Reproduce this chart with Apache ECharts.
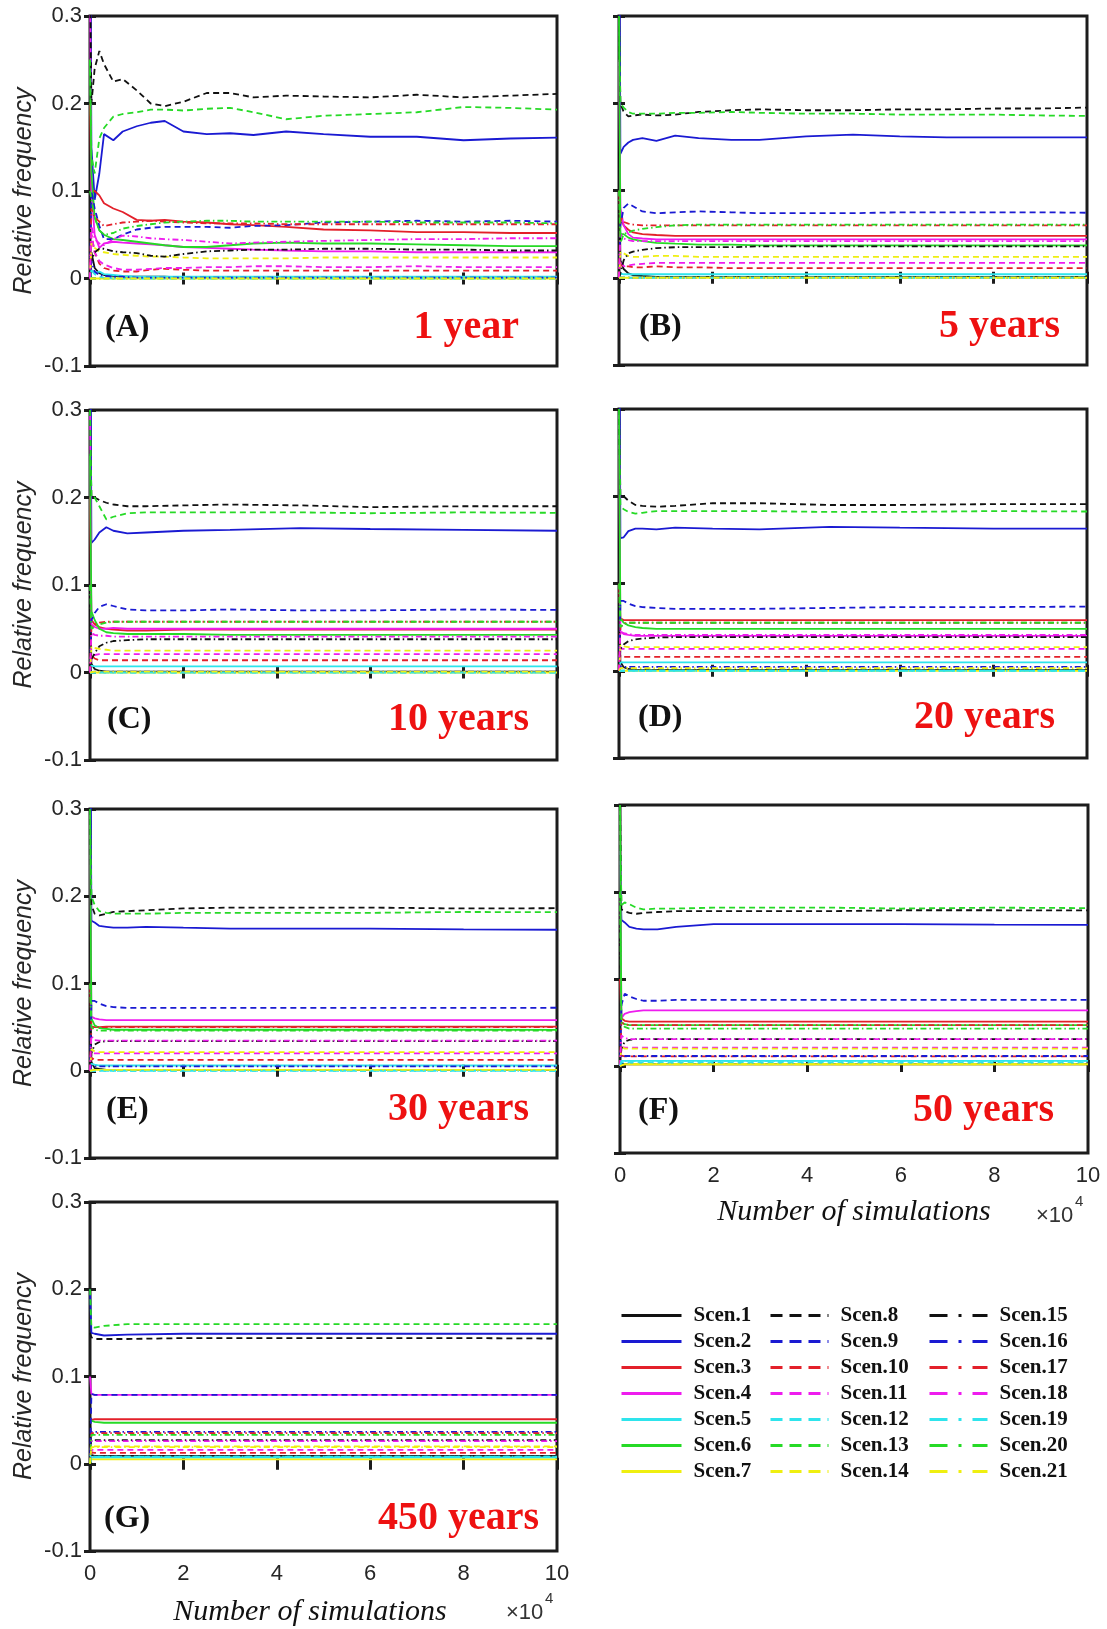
<!DOCTYPE html>
<html>
<head>
<meta charset="utf-8">
<script src="https://cdn.jsdelivr.net/npm/echarts@6/dist/echarts.min.js"></script>
<style>
html, body { margin: 0; padding: 0; background: #fff; }
#chart { width: 1107px; height: 1629px; }
</style>
</head>
<body>
<div id="chart"></div>
<script>
// scenario names, 21 per panel
var scenNames = ['Scen.1','Scen.2','Scen.3','Scen.4','Scen.5','Scen.6','Scen.7',
  'Scen.8','Scen.9','Scen.10','Scen.11','Scen.12','Scen.13','Scen.14',
  'Scen.15','Scen.16','Scen.17','Scen.18','Scen.19','Scen.20','Scen.21'];

var panelTags = ['(A)', '(B)', '(C)', '(D)', '(E)', '(F)', '(G)'];
var panelYears = ['1 year', '5 years', '10 years', '20 years', '30 years', '50 years', '450 years'];

// x positions (number of simulations) where the curves were read
var xA = [0, 300, 1000, 2000, 3000, 5000, 7000, 10000, 13000, 16000, 20000, 25000, 30000, 35000, 42000, 50000, 60000, 70000, 80000, 90000, 100000];
var xB = [0, 300, 1000, 2000, 3000, 5000, 8000, 12000, 17000, 24000, 30000, 40000, 50000, 60000, 70000, 80000, 90000, 100000];
var xC = [0, 300, 1000, 2000, 3500, 5000, 8000, 12000, 20000, 30000, 45000, 60000, 80000, 100000];
var xG = [0, 300, 1000, 3000, 8000, 20000, 40000, 60000, 80000, 100000];

// (A) 1 year - one row per scenario
var freqA = [
  [0, 0.03, 0.012, 0.006, 0.004, 0.003, 0.002, 0.002, 0.002, 0.002, 0.001, 0.001, 0.001, 0.001, 0.001, 0.001, 0.001, 0.001, 0.001, 0.001, 0.001],
  [0.5, 0.15, 0.09, 0.12, 0.165, 0.158, 0.168, 0.174, 0.178, 0.18, 0.168, 0.165, 0.166, 0.164, 0.168, 0.165, 0.162, 0.162, 0.158, 0.16, 0.161],
  [0.2, 0.1, 0.1, 0.095, 0.086, 0.08, 0.076, 0.067, 0.066, 0.067, 0.065, 0.064, 0.062, 0.061, 0.059, 0.056, 0.055, 0.053, 0.053, 0.052, 0.052],
  [0.33, 0.1, 0.05, 0.035, 0.04, 0.042, 0.041, 0.04, 0.039, 0.038, 0.036, 0.035, 0.034, 0.033, 0.032, 0.031, 0.031, 0.03, 0.03, 0.03, 0.03],
  [0, 0.01, 0.006, 0.008, 0.005, 0.004, 0.003, 0.002, 0.002, 0.002, 0.002, 0.002, 0.002, 0.002, 0.002, 0.002, 0.002, 0.002, 0.002, 0.002, 0.002],
  [0.25, 0.12, 0.07, 0.055, 0.05, 0.045, 0.044, 0.042, 0.04, 0.038, 0.036, 0.036, 0.038, 0.04, 0.041, 0.04, 0.04, 0.039, 0.038, 0.037, 0.037],
  [0, 0, 0, 0, 0, 0, 0, 0, 0, 0, 0, 0, 0, 0, 0, 0, 0, 0, 0, 0, 0],
  [0.35, 0.2, 0.24, 0.26, 0.245, 0.225, 0.228, 0.215, 0.2, 0.197, 0.202, 0.212, 0.212, 0.207, 0.209, 0.208, 0.207, 0.21, 0.207, 0.209, 0.211],
  [0, 0.1, 0.08, 0.06, 0.045, 0.045, 0.05, 0.056, 0.058, 0.059, 0.059, 0.059, 0.058, 0.06, 0.061, 0.064, 0.065, 0.066, 0.065, 0.066, 0.065],
  [0, 0.05, 0.03, 0.017, 0.012, 0.009, 0.008, 0.008, 0.01, 0.011, 0.01, 0.009, 0.009, 0.009, 0.009, 0.009, 0.009, 0.009, 0.009, 0.009, 0.009],
  [0, 0.05, 0.03, 0.02, 0.016, 0.012, 0.01, 0.01, 0.011, 0.012, 0.012, 0.013, 0.013, 0.014, 0.014, 0.013, 0.013, 0.014, 0.013, 0.013, 0.013],
  [0, 0.01, 0.005, 0.002, 0.001, 0, 0, 0, 0, 0, 0, 0, 0, 0, 0, 0, 0, 0, 0, 0, 0],
  [0.25, 0.14, 0.12, 0.16, 0.172, 0.185, 0.188, 0.19, 0.193, 0.193, 0.192, 0.194, 0.195, 0.19, 0.182, 0.186, 0.188, 0.19, 0.196, 0.195, 0.193],
  [0, 0.04, 0.035, 0.031, 0.03, 0.028, 0.027, 0.026, 0.025, 0.025, 0.024, 0.023, 0.023, 0.023, 0.023, 0.024, 0.024, 0.024, 0.024, 0.024, 0.024],
  [0, 0.02, 0.03, 0.034, 0.034, 0.031, 0.03, 0.029, 0.026, 0.025, 0.028, 0.031, 0.032, 0.033, 0.033, 0.034, 0.034, 0.033, 0.033, 0.032, 0.032],
  [0, 0.02, 0.008, 0.004, 0.003, 0.002, 0.002, 0.001, 0.001, 0.001, 0.001, 0.001, 0.001, 0.001, 0.001, 0.001, 0.001, 0.001, 0.001, 0.001, 0.001],
  [0, 0.08, 0.07, 0.065, 0.06, 0.062, 0.064, 0.065, 0.066, 0.065, 0.064, 0.063, 0.063, 0.063, 0.062, 0.062, 0.062, 0.062, 0.062, 0.062, 0.062],
  [0, 0.06, 0.045, 0.04, 0.038, 0.045, 0.049, 0.048, 0.046, 0.045, 0.044, 0.042, 0.04, 0.041, 0.042, 0.043, 0.044, 0.045, 0.045, 0.046, 0.046],
  [0, 0, 0, 0, 0, 0, 0, 0, 0, 0, 0, 0, 0, 0, 0, 0, 0, 0, 0, 0, 0],
  [0.1, 0.1, 0.07, 0.055, 0.05, 0.052, 0.057, 0.06, 0.062, 0.064, 0.065, 0.066, 0.066, 0.065, 0.065, 0.065, 0.065, 0.064, 0.064, 0.064, 0.063],
  [0, 0, 0, 0, 0, 0, 0, 0, 0, 0, 0, 0, 0, 0, 0, 0, 0, 0, 0, 0, 0]
];

// (B) 5 years
var freqB = [
  [0.2, 0.02, 0.01, 0.005, 0.003, 0.002, 0.001, 0.001, 0.001, 0.001, 0.001, 0.001, 0.001, 0.001, 0.001, 0.001, 0.001, 0.001],
  [0.5, 0.142, 0.15, 0.155, 0.158, 0.16, 0.157, 0.163, 0.16, 0.158, 0.158, 0.162, 0.164, 0.162, 0.161, 0.161, 0.161, 0.161],
  [0.1, 0.07, 0.06, 0.055, 0.052, 0.05, 0.049, 0.048, 0.048, 0.048, 0.048, 0.048, 0.048, 0.048, 0.048, 0.048, 0.048, 0.048],
  [0.25, 0.08, 0.06, 0.05, 0.046, 0.045, 0.044, 0.044, 0.044, 0.044, 0.044, 0.044, 0.044, 0.044, 0.044, 0.044, 0.044, 0.044],
  [0, 0.005, 0.004, 0.004, 0.004, 0.004, 0.004, 0.004, 0.004, 0.004, 0.004, 0.004, 0.004, 0.004, 0.004, 0.004, 0.004, 0.004],
  [0.3, 0.05, 0.05, 0.046, 0.044, 0.042, 0.04, 0.039, 0.038, 0.038, 0.037, 0.037, 0.037, 0.037, 0.037, 0.037, 0.037, 0.037],
  [0, 0, 0, 0, 0, 0, 0, 0, 0, 0, 0, 0, 0, 0, 0, 0, 0, 0],
  [0.3, 0.2, 0.19, 0.185, 0.186, 0.187, 0.186, 0.187, 0.19, 0.192, 0.193, 0.192, 0.192, 0.193, 0.193, 0.194, 0.194, 0.195],
  [0, 0.06, 0.08, 0.085, 0.082, 0.076, 0.074, 0.075, 0.076, 0.075, 0.074, 0.074, 0.074, 0.075, 0.075, 0.075, 0.075, 0.0745],
  [0, 0.015, 0.013, 0.013, 0.012, 0.012, 0.013, 0.012, 0.012, 0.011, 0.011, 0.011, 0.011, 0.011, 0.011, 0.011, 0.011, 0.011],
  [0, 0.02, 0.013, 0.014, 0.015, 0.016, 0.017, 0.017, 0.017, 0.017, 0.017, 0.017, 0.017, 0.017, 0.017, 0.017, 0.017, 0.017],
  [0, 0, 0, 0, 0, 0, 0, 0, 0, 0, 0, 0, 0, 0, 0, 0, 0, 0],
  [0.3, 0.2, 0.195, 0.19, 0.188, 0.188, 0.188, 0.189, 0.189, 0.19, 0.189, 0.188, 0.188, 0.187, 0.187, 0.187, 0.186, 0.1855],
  [0, 0.03, 0.028, 0.025, 0.024, 0.024, 0.025, 0.025, 0.024, 0.024, 0.024, 0.024, 0.024, 0.024, 0.024, 0.024, 0.024, 0.024],
  [0, 0.005, 0.02, 0.028, 0.03, 0.032, 0.034, 0.035, 0.035, 0.035, 0.036, 0.036, 0.036, 0.036, 0.036, 0.036, 0.036, 0.036],
  [0, 0, 0, 0, 0, 0, 0, 0, 0, 0, 0, 0, 0, 0, 0, 0, 0, 0],
  [0, 0.07, 0.064, 0.062, 0.061, 0.06, 0.06, 0.06, 0.06, 0.06, 0.06, 0.06, 0.06, 0.06, 0.06, 0.06, 0.06, 0.06],
  [0, 0.05, 0.045, 0.043, 0.042, 0.042, 0.042, 0.042, 0.042, 0.042, 0.042, 0.042, 0.042, 0.042, 0.042, 0.042, 0.042, 0.042],
  [0, 0, 0, 0, 0, 0, 0, 0, 0, 0, 0, 0, 0, 0, 0, 0, 0, 0],
  [0.1, 0.04, 0.05, 0.052, 0.054, 0.056, 0.058, 0.06, 0.061, 0.061, 0.061, 0.061, 0.061, 0.061, 0.061, 0.061, 0.061, 0.061],
  [0, 0, 0, 0, 0, 0, 0, 0, 0, 0, 0, 0, 0, 0, 0, 0, 0, 0]
];

// (C) 10 years
var freqC = [
  [0.1, 0.01, 0.004, 0.002, 0.001, 0.001, 0.001, 0.001, 0.001, 0.001, 0.001, 0.001, 0.001, 0.001],
  [0.5, 0.148, 0.152, 0.16, 0.166, 0.162, 0.159, 0.16, 0.162, 0.163, 0.165, 0.164, 0.163, 0.162],
  [0.2, 0.06, 0.055, 0.052, 0.05, 0.049, 0.048, 0.048, 0.049, 0.049, 0.049, 0.049, 0.049, 0.049],
  [0.3, 0.055, 0.052, 0.05, 0.05, 0.051, 0.05, 0.05, 0.05, 0.05, 0.05, 0.05, 0.05, 0.05],
  [0, 0.008, 0.007, 0.007, 0.007, 0.007, 0.007, 0.007, 0.007, 0.007, 0.007, 0.007, 0.007, 0.007],
  [0.25, 0.07, 0.06, 0.05, 0.046, 0.045, 0.044, 0.044, 0.044, 0.043, 0.043, 0.043, 0.043, 0.043],
  [0, 0, 0, 0, 0, 0, 0, 0, 0, 0, 0, 0, 0, 0],
  [0.3, 0.2, 0.2, 0.197, 0.194, 0.192, 0.19, 0.19, 0.191, 0.192, 0.191, 0.189, 0.19, 0.19],
  [0, 0.06, 0.068, 0.075, 0.078, 0.076, 0.072, 0.071, 0.071, 0.072, 0.071, 0.071, 0.072, 0.0715],
  [0, 0.02, 0.016, 0.014, 0.014, 0.014, 0.014, 0.014, 0.014, 0.014, 0.014, 0.014, 0.014, 0.014],
  [0, 0.02, 0.02, 0.021, 0.021, 0.021, 0.021, 0.021, 0.021, 0.021, 0.021, 0.021, 0.021, 0.021],
  [0, 0, 0, 0, 0, 0, 0, 0, 0, 0, 0, 0, 0, 0],
  [0.3, 0.2, 0.2, 0.19, 0.175, 0.178, 0.182, 0.183, 0.183, 0.183, 0.183, 0.182, 0.183, 0.1825],
  [0, 0.03, 0.028, 0.027, 0.026, 0.025, 0.025, 0.025, 0.025, 0.025, 0.025, 0.025, 0.025, 0.025],
  [0, 0.015, 0.022, 0.03, 0.034, 0.036, 0.037, 0.038, 0.038, 0.038, 0.038, 0.038, 0.038, 0.038],
  [0, 0.002, 0.001, 0.001, 0.001, 0.001, 0.001, 0.001, 0.001, 0.001, 0.001, 0.001, 0.001, 0.001],
  [0, 0.05, 0.055, 0.057, 0.058, 0.058, 0.058, 0.058, 0.058, 0.058, 0.058, 0.058, 0.058, 0.058],
  [0, 0.045, 0.043, 0.042, 0.042, 0.041, 0.041, 0.041, 0.041, 0.041, 0.041, 0.041, 0.041, 0.041],
  [0, 0, 0, 0, 0, 0, 0, 0, 0, 0, 0, 0, 0, 0],
  [0.1, 0.05, 0.052, 0.055, 0.057, 0.058, 0.058, 0.058, 0.058, 0.058, 0.058, 0.058, 0.058, 0.058],
  [0, 0.001, 0.001, 0.001, 0.001, 0.001, 0.001, 0.001, 0.001, 0.001, 0.001, 0.001, 0.001, 0.001]
];

// (D) 20 years
var freqD = [
  [0.1, 0.01, 0.004, 0.002, 0.001, 0.001, 0.001, 0.001, 0.001, 0.001, 0.001, 0.001, 0.001, 0.001],
  [0.5, 0.152, 0.153, 0.16, 0.163, 0.163, 0.162, 0.164, 0.163, 0.162, 0.165, 0.164, 0.163, 0.163],
  [0.1, 0.06, 0.058, 0.058, 0.058, 0.058, 0.058, 0.058, 0.058, 0.058, 0.058, 0.058, 0.058, 0.058],
  [0.3, 0.045, 0.042, 0.041, 0.04, 0.04, 0.04, 0.04, 0.04, 0.04, 0.04, 0.04, 0.04, 0.04],
  [0, 0.01, 0.0095, 0.0095, 0.0095, 0.0095, 0.0095, 0.0095, 0.0095, 0.0095, 0.0095, 0.0095, 0.0095, 0.0095],
  [0.3, 0.06, 0.055, 0.052, 0.05, 0.049, 0.048, 0.048, 0.048, 0.048, 0.048, 0.048, 0.048, 0.048],
  [0, 0, 0, 0, 0, 0, 0, 0, 0, 0, 0, 0, 0, 0],
  [0.3, 0.2, 0.2, 0.195, 0.19, 0.189, 0.188, 0.189, 0.192, 0.192, 0.19, 0.19, 0.191, 0.191],
  [0, 0.08, 0.08, 0.077, 0.074, 0.073, 0.072, 0.071, 0.071, 0.071, 0.072, 0.073, 0.073, 0.0735],
  [0, 0.018, 0.016, 0.016, 0.016, 0.016, 0.016, 0.016, 0.016, 0.016, 0.016, 0.016, 0.016, 0.016],
  [0, 0.025, 0.025, 0.025, 0.025, 0.025, 0.025, 0.025, 0.025, 0.025, 0.025, 0.025, 0.025, 0.025],
  [0, 0, 0, 0, 0, 0, 0, 0, 0, 0, 0, 0, 0, 0],
  [0.3, 0.19, 0.185, 0.182, 0.18, 0.181, 0.183, 0.183, 0.183, 0.183, 0.182, 0.182, 0.183, 0.1825],
  [0, 0.03, 0.028, 0.027, 0.027, 0.027, 0.027, 0.027, 0.027, 0.027, 0.027, 0.027, 0.027, 0.027],
  [0, 0.025, 0.03, 0.034, 0.036, 0.037, 0.038, 0.0385, 0.0385, 0.0385, 0.0385, 0.0385, 0.0385, 0.0385],
  [0, 0.005, 0.0045, 0.0045, 0.0045, 0.0045, 0.0045, 0.0045, 0.0045, 0.0045, 0.0045, 0.0045, 0.0045, 0.0045],
  [0, 0.05, 0.054, 0.055, 0.055, 0.055, 0.055, 0.055, 0.055, 0.055, 0.055, 0.055, 0.055, 0.055],
  [0, 0.045, 0.043, 0.042, 0.041, 0.041, 0.041, 0.041, 0.041, 0.041, 0.041, 0.041, 0.041, 0.041],
  [0, 0, 0, 0, 0, 0, 0, 0, 0, 0, 0, 0, 0, 0],
  [0.1, 0.05, 0.053, 0.055, 0.055, 0.055, 0.055, 0.055, 0.055, 0.055, 0.055, 0.055, 0.055, 0.055],
  [0, 0.003, 0.003, 0.003, 0.003, 0.003, 0.003, 0.003, 0.003, 0.003, 0.003, 0.003, 0.003, 0.003]
];

// (E) 30 years
var freqE = [
  [0.1, 0.01, 0.003, 0.002, 0.001, 0.001, 0.001, 0.001, 0.001, 0.001, 0.001, 0.001, 0.001, 0.001],
  [0.5, 0.172, 0.17, 0.166, 0.165, 0.164, 0.164, 0.165, 0.164, 0.163, 0.163, 0.163, 0.162, 0.1616],
  [0.1, 0.05, 0.05, 0.05, 0.0505, 0.0506, 0.0506, 0.0506, 0.0506, 0.0506, 0.0506, 0.0506, 0.0506, 0.0506],
  [0.3, 0.062, 0.06, 0.059, 0.058, 0.058, 0.058, 0.058, 0.058, 0.058, 0.058, 0.058, 0.058, 0.058],
  [0, 0.008, 0.007, 0.006, 0.006, 0.006, 0.006, 0.006, 0.006, 0.006, 0.006, 0.006, 0.006, 0.006],
  [0.3, 0.06, 0.052, 0.049, 0.048, 0.047, 0.047, 0.047, 0.047, 0.047, 0.047, 0.047, 0.047, 0.0468],
  [0, 0.001, 0.001, 0.001, 0.001, 0.001, 0.001, 0.001, 0.001, 0.001, 0.001, 0.001, 0.001, 0.001],
  [0.3, 0.19, 0.18, 0.178, 0.18, 0.182, 0.183, 0.184, 0.186, 0.187, 0.187, 0.187, 0.186, 0.1863],
  [0, 0.08, 0.08, 0.077, 0.074, 0.073, 0.072, 0.072, 0.072, 0.072, 0.072, 0.072, 0.072, 0.0722],
  [0, 0.015, 0.0125, 0.0125, 0.0125, 0.0125, 0.0125, 0.0125, 0.0125, 0.0125, 0.0125, 0.0125, 0.0125, 0.0125],
  [0, 0.02, 0.02, 0.02, 0.02, 0.02, 0.02, 0.02, 0.02, 0.02, 0.02, 0.02, 0.02, 0.02],
  [0, 0, 0, 0, 0, 0, 0, 0, 0, 0, 0, 0, 0, 0],
  [0.3, 0.2, 0.19, 0.183, 0.181, 0.18, 0.18, 0.18, 0.181, 0.181, 0.181, 0.181, 0.182, 0.1817],
  [0, 0.025, 0.022, 0.0213, 0.0213, 0.0213, 0.0213, 0.0213, 0.0213, 0.0213, 0.0213, 0.0213, 0.0213, 0.0213],
  [0, 0.02, 0.03, 0.033, 0.034, 0.034, 0.034, 0.034, 0.034, 0.034, 0.034, 0.034, 0.034, 0.034],
  [0, 0.006, 0.005, 0.005, 0.005, 0.005, 0.005, 0.005, 0.005, 0.005, 0.005, 0.005, 0.005, 0.005],
  [0, 0.05, 0.05, 0.05, 0.05, 0.05, 0.05, 0.05, 0.05, 0.05, 0.05, 0.05, 0.05, 0.05],
  [0, 0.04, 0.035, 0.0346, 0.0346, 0.0346, 0.0346, 0.0346, 0.0346, 0.0346, 0.0346, 0.0346, 0.0346, 0.0346],
  [0, 0, 0, 0, 0, 0, 0, 0, 0, 0, 0, 0, 0, 0],
  [0.1, 0.05, 0.047, 0.046, 0.046, 0.046, 0.046, 0.046, 0.046, 0.046, 0.046, 0.046, 0.046, 0.046],
  [0, 0.001, 0.001, 0.001, 0.001, 0.001, 0.001, 0.001, 0.001, 0.001, 0.001, 0.001, 0.001, 0.001]
];

// (F) 50 years
var freqF = [
  [0, 0.003, 0.002, 0.002, 0.002, 0.002, 0.002, 0.002, 0.002, 0.002, 0.002, 0.002, 0.002, 0.002],
  [0.25, 0.168, 0.165, 0.16, 0.158, 0.157, 0.157, 0.16, 0.163, 0.163, 0.163, 0.163, 0.1625, 0.1623],
  [0.1, 0.055, 0.052, 0.051, 0.051, 0.051, 0.051, 0.051, 0.051, 0.051, 0.051, 0.051, 0.051, 0.051],
  [0.3, 0.055, 0.06, 0.062, 0.063, 0.064, 0.064, 0.064, 0.064, 0.064, 0.064, 0.064, 0.064, 0.064],
  [0, 0.006, 0.006, 0.006, 0.006, 0.006, 0.006, 0.006, 0.006, 0.006, 0.006, 0.006, 0.006, 0.006],
  [0.3, 0.05, 0.048, 0.047, 0.047, 0.047, 0.047, 0.047, 0.047, 0.047, 0.047, 0.047, 0.047, 0.047],
  [0, 0.002, 0.002, 0.002, 0.002, 0.002, 0.002, 0.002, 0.002, 0.002, 0.002, 0.002, 0.002, 0.002],
  [0.3, 0.18, 0.178, 0.176, 0.175, 0.176, 0.177, 0.178, 0.178, 0.178, 0.178, 0.179, 0.179, 0.1788],
  [0, 0.07, 0.083, 0.08, 0.077, 0.075, 0.075, 0.076, 0.076, 0.076, 0.076, 0.076, 0.076, 0.076],
  [0, 0.012, 0.011, 0.011, 0.011, 0.011, 0.011, 0.011, 0.011, 0.011, 0.011, 0.011, 0.011, 0.011],
  [0, 0.022, 0.021, 0.021, 0.021, 0.021, 0.021, 0.021, 0.021, 0.021, 0.021, 0.021, 0.021, 0.021],
  [0, 0.004, 0.004, 0.004, 0.004, 0.004, 0.004, 0.004, 0.004, 0.004, 0.004, 0.004, 0.004, 0.004],
  [0.3, 0.185, 0.188, 0.186, 0.182, 0.18, 0.181, 0.181, 0.182, 0.182, 0.182, 0.181, 0.182, 0.1815],
  [0, 0.022, 0.02, 0.02, 0.02, 0.02, 0.02, 0.02, 0.02, 0.02, 0.02, 0.02, 0.02, 0.02],
  [0, 0.02, 0.028, 0.03, 0.031, 0.031, 0.031, 0.031, 0.031, 0.031, 0.031, 0.031, 0.031, 0.031],
  [0, 0.012, 0.0115, 0.0115, 0.0115, 0.0115, 0.0115, 0.0115, 0.0115, 0.0115, 0.0115, 0.0115, 0.0115, 0.0115],
  [0, 0.05, 0.048, 0.047, 0.047, 0.047, 0.047, 0.047, 0.047, 0.047, 0.047, 0.047, 0.047, 0.047],
  [0, 0.035, 0.032, 0.031, 0.031, 0.031, 0.031, 0.031, 0.031, 0.031, 0.031, 0.031, 0.031, 0.031],
  [0, 0.006, 0.006, 0.006, 0.006, 0.006, 0.006, 0.006, 0.006, 0.006, 0.006, 0.006, 0.006, 0.006],
  [0.2, 0.05, 0.045, 0.043, 0.043, 0.043, 0.043, 0.043, 0.043, 0.043, 0.043, 0.043, 0.043, 0.043],
  [0, 0.002, 0.002, 0.002, 0.002, 0.002, 0.002, 0.002, 0.002, 0.002, 0.002, 0.002, 0.002, 0.002]
];

// (G) 450 years
var freqG = [
  [0.05, 0.01, 0.009, 0.009, 0.009, 0.009, 0.009, 0.009, 0.009, 0.009],
  [0.2, 0.15, 0.149, 0.147, 0.148, 0.149, 0.149, 0.149, 0.149, 0.149],
  [0.05, 0.05, 0.051, 0.051, 0.051, 0.051, 0.051, 0.051, 0.051, 0.051],
  [0.1, 0.08, 0.079, 0.079, 0.079, 0.079, 0.079, 0.079, 0.079, 0.079],
  [0.01, 0.007, 0.007, 0.007, 0.007, 0.007, 0.007, 0.007, 0.007, 0.007],
  [0.05, 0.05, 0.048, 0.047, 0.047, 0.047, 0.047, 0.047, 0.047, 0.047],
  [0, 0.005, 0.005, 0.005, 0.005, 0.005, 0.005, 0.005, 0.005, 0.005],
  [0.15, 0.145, 0.143, 0.143, 0.143, 0.144, 0.144, 0.144, 0.144, 0.1435],
  [0, 0.08, 0.079, 0.079, 0.079, 0.079, 0.079, 0.079, 0.079, 0.079],
  [0, 0.013, 0.0125, 0.0125, 0.0125, 0.0125, 0.0125, 0.0125, 0.0125, 0.0125],
  [0, 0.016, 0.016, 0.016, 0.016, 0.016, 0.016, 0.016, 0.016, 0.016],
  [0, 0.008, 0.008, 0.008, 0.008, 0.008, 0.008, 0.008, 0.008, 0.008],
  [0.2, 0.157, 0.156, 0.158, 0.16, 0.16, 0.16, 0.16, 0.16, 0.16],
  [0, 0.02, 0.02, 0.02, 0.02, 0.02, 0.02, 0.02, 0.02, 0.02],
  [0, 0.027, 0.027, 0.027, 0.027, 0.027, 0.027, 0.027, 0.027, 0.027],
  [0, 0.0365, 0.0365, 0.0365, 0.0365, 0.0365, 0.0365, 0.0365, 0.0365, 0.0365],
  [0, 0.035, 0.035, 0.035, 0.035, 0.035, 0.035, 0.035, 0.035, 0.035],
  [0, 0.026, 0.026, 0.026, 0.026, 0.026, 0.026, 0.026, 0.026, 0.026],
  [0, 0.008, 0.008, 0.008, 0.008, 0.008, 0.008, 0.008, 0.008, 0.008],
  [0, 0.033, 0.033, 0.033, 0.033, 0.033, 0.033, 0.033, 0.033, 0.033],
  [0, 0.019, 0.019, 0.019, 0.019, 0.019, 0.019, 0.019, 0.019, 0.019]
];

var panelX = [xA, xB, xC, xC, xC, xC, xG];
var panelFreq = [freqA, freqB, freqC, freqD, freqE, freqF, freqG];

// layout of the seven boxes (pixels); tagY = distance of the panel captions above the box bottom
var boxes = [
  {left: 90, top: 16, width: 467, height: 350, yLab: true, xLab: false, tagX: 105, yearRight: 519, tagY: 38},
  {left: 619, top: 16, width: 468, height: 349, yLab: false, xLab: false, tagX: 639, yearRight: 1060, tagY: 38},
  {left: 90, top: 410, width: 467, height: 350, yLab: true, xLab: false, tagX: 107, yearRight: 529, tagY: 40},
  {left: 619, top: 409, width: 468, height: 349, yLab: false, xLab: false, tagX: 638, yearRight: 1055, tagY: 40},
  {left: 90, top: 809, width: 467, height: 349, yLab: true, xLab: false, tagX: 106, yearRight: 529, tagY: 48},
  {left: 620, top: 805, width: 468, height: 348, yLab: false, xLab: true, tagX: 638, yearRight: 1054, tagY: 42},
  {left: 90, top: 1202, width: 467, height: 349, yLab: true, xLab: true, tagX: 104, yearRight: 539, tagY: 32}
];

var colors = ['#111111', '#1a1ad2', '#e3202a', '#ee1cee', '#2ee4ec', '#26da26', '#efef10'];
var plotDash = ['solid', [6, 4], [6, 3, 1.5, 3]];
var legendDash = ['solid', [12, 7], [18, 11, 3, 11]];

var myChart = echarts.init(document.getElementById('chart'));

var grids = [], xAxes = [], yAxes = [], series = [], graphics = [];
var frameColor = '#1c1c1c';

boxes.forEach(function (b, p) {
  grids.push({
    left: b.left, top: b.top, width: b.width, height: b.height,
    show: true, borderColor: frameColor, borderWidth: 3, backgroundColor: 'transparent'
  });
  var tick = {show: true, inside: true, length: 6, lineStyle: {color: frameColor, width: 3}};
  xAxes.push({
    type: 'value', gridIndex: p, position: 'bottom', min: 0, max: 100000, interval: 20000,
    axisLine: {show: false}, splitLine: {show: false}, axisTick: tick,
    axisLabel: {show: b.xLab, margin: 12, fontSize: 22, color: '#262626', fontFamily: 'Liberation Sans',
      formatter: function (v) { return String(v / 10000); }},
    name: b.xLab ? 'Number of simulations' : '',
    nameLocation: 'middle', nameGap: p === 6 ? 46 : 44,
    nameTextStyle: {fontFamily: 'Liberation Serif', fontStyle: 'italic', fontSize: 30, color: '#111',
      padding: p === 6 ? [0, 27, 0, 0] : 0}
  });
  xAxes.push({
    type: 'value', gridIndex: p, position: 'top', min: 0, max: 100000, interval: 20000,
    axisLine: {show: false}, splitLine: {show: false}, axisTick: tick, axisLabel: {show: false}
  });
  yAxes.push({
    type: 'value', gridIndex: p, position: 'left', min: -0.1, max: 0.3, interval: 0.1,
    axisLine: {show: false}, splitLine: {show: false}, axisTick: tick,
    axisLabel: {show: b.yLab, margin: 8, fontSize: 22, color: '#262626', fontFamily: 'Liberation Sans',
      formatter: function (v) { return Math.abs(v) < 1e-9 ? '0' : v.toFixed(1); }},
    name: b.yLab ? 'Relative frequency' : '', nameLocation: 'middle', nameGap: 53,
    nameTextStyle: {fontFamily: 'Liberation Sans', fontStyle: 'italic', fontSize: 25, color: '#262626'}
  });
  yAxes.push({
    type: 'value', gridIndex: p, position: 'right', min: -0.1, max: 0.3, interval: 0.1,
    axisLine: {show: false}, splitLine: {show: false}, axisTick: tick, axisLabel: {show: false}
  });

  var xs = panelX[p];
  panelFreq[p].forEach(function (row, s) {
    var data = xs.map(function (x, k) { return [x, row[k]]; });
    series.push({
      name: scenNames[s], type: 'line', xAxisIndex: 2 * p, yAxisIndex: 2 * p,
      data: data, symbol: 'none', showSymbol: false, clip: true, silent: true,
      color: colors[s % 7],
      lineStyle: {color: colors[s % 7], width: 1.8, type: plotDash[Math.floor(s / 7)]}
    });
  });

  var midY = b.top + b.height - b.tagY;
  graphics.push({
    type: 'text', x: b.tagX, y: midY,
    style: {text: panelTags[p], font: 'bold 32px "Liberation Serif"', fill: '#111', align: 'left', verticalAlign: 'middle'}
  });
  graphics.push({
    type: 'text', x: b.yearRight, y: midY,
    style: {text: panelYears[p], font: 'bold 40px "Liberation Serif"', fill: '#ee1111', align: 'right', verticalAlign: 'middle'}
  });
});

// "x10^4" multipliers under panels F and G
[[1036, 1216], [506, 1613]].forEach(function (pos) {
  graphics.push({type: 'text', x: pos[0], y: pos[1],
    style: {text: '\u00d710', font: '22px "Liberation Sans"', fill: '#333', align: 'left', verticalAlign: 'middle'}});
  graphics.push({type: 'text', x: pos[0] + 39, y: pos[1] - 14,
    style: {text: '4', font: '15px "Liberation Sans"', fill: '#333', align: 'left', verticalAlign: 'middle'}});
});

var legendLeft = [620, 769, 928];
var legends = legendLeft.map(function (lx, c) {
  return {
    orient: 'vertical', left: lx, top: 1305, padding: 0, itemGap: 5,
    itemWidth: c === 0 ? 60 : 58, itemHeight: 14, selectedMode: false,
    itemStyle: {opacity: 0},
    lineStyle: {width: 3},
    textStyle: {fontFamily: 'Liberation Serif', fontWeight: 'bold', fontSize: 21, color: '#111',
      lineHeight: 21, padding: [0, 0, 0, 7]},
    data: scenNames.slice(c * 7, c * 7 + 7).map(function (n) {
      return {name: n, lineStyle: {type: legendDash[c], width: 3}};
    })
  };
});

var option = {
  animation: false,
  backgroundColor: '#ffffff',
  grid: grids,
  xAxis: xAxes,
  yAxis: yAxes,
  legend: legends,
  graphic: graphics,
  series: series
};
myChart.setOption(option);
</script>
</body>
</html>
